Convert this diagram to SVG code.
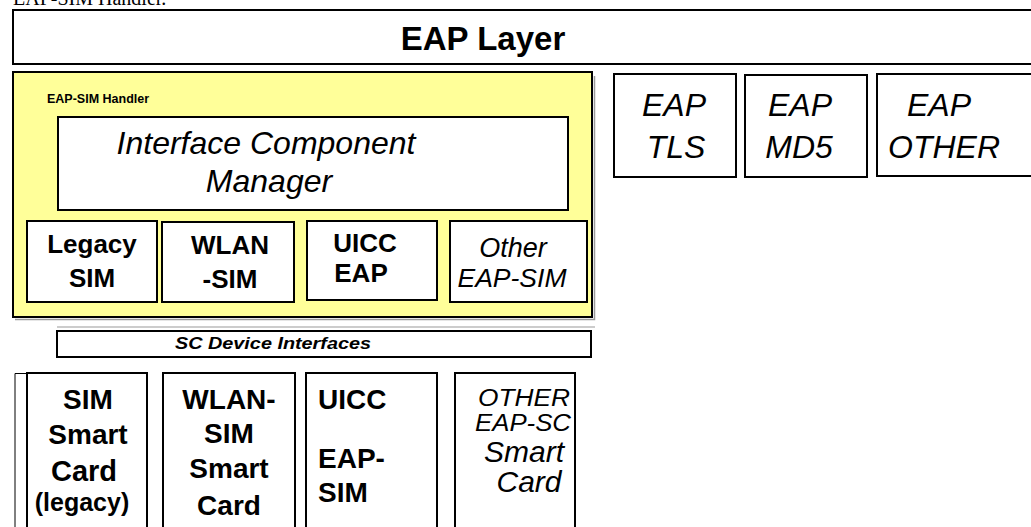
<svg xmlns="http://www.w3.org/2000/svg" width="1031" height="527" viewBox="0 0 1031 527">
<style>
.box{fill:#ffffff;stroke:#000000;stroke-width:2}
.shadow{fill:none;stroke:#9a9a9a;stroke-width:1.5}
.b{font-family:"Liberation Sans",Arial,sans-serif;font-weight:bold;fill:#000;text-anchor:middle}
.i{font-family:"Liberation Sans",Arial,sans-serif;font-style:italic;fill:#000;text-anchor:middle}
.bi{font-family:"Liberation Sans",Arial,sans-serif;font-style:italic;font-weight:bold;fill:#000;text-anchor:middle}
</style>
<rect width="1031" height="527" fill="#ffffff"/>
<text x="13" y="5" font-family="'Liberation Serif','Times New Roman',serif" font-size="20" fill="#000">EAP-SIM Handler.</text>

<g id="eap-layer">
<rect class="box" x="13" y="10" width="1030" height="54"/>
<text class="b" x="483" y="50" font-size="33">EAP Layer</text>
</g>

<g id="eap-sim-handler">
<path class="shadow" d="M15,319.5 H594.5 V76"/>
<rect x="13" y="72" width="579" height="245" fill="#ffff99" stroke="#000" stroke-width="2"/>
<text class="b" x="47" y="103" font-size="12.5" style="text-anchor:start">EAP-SIM Handler</text>
</g>

<g id="interface-component-manager">
<rect class="box" x="58" y="117" width="510" height="93"/>
<text class="i" x="266" y="154" font-size="32">Interface Component</text>
<text class="i" x="269" y="192" font-size="32">Manager</text>
</g>

<g id="legacy-sim">
<rect class="box" x="27" y="221" width="130" height="81"/>
<text class="b" x="92" y="253" font-size="26">Legacy</text>
<text class="b" x="92" y="287" font-size="26">SIM</text>
</g>

<g id="wlan-sim">
<rect class="box" x="162" y="222" width="132" height="80"/>
<text class="b" x="230" y="254" font-size="26">WLAN</text>
<text class="b" x="230" y="288" font-size="26">-SIM</text>
</g>

<g id="uicc-eap">
<rect class="box" x="307" y="221" width="130" height="79"/>
<text class="b" x="365" y="252" font-size="26">UICC</text>
<text class="b" x="361" y="282" font-size="26">EAP</text>
</g>

<g id="other-eapsim">
<rect class="box" x="450" y="221" width="137" height="81"/>
<text class="i" x="513" y="257" font-size="27">Other</text>
<text class="i" x="512" y="287" font-size="26" textLength="109" lengthAdjust="spacingAndGlyphs">EAP-SIM</text>
</g>

<g id="eap-tls">
<rect class="box" x="614" y="74" width="122" height="103"/>
<text class="i" x="674" y="116" font-size="32">EAP</text>
<text class="i" x="676" y="158" font-size="32">TLS</text>
</g>

<g id="eap-md5">
<rect class="box" x="745" y="75" width="122" height="102"/>
<text class="i" x="800" y="116" font-size="32">EAP</text>
<text class="i" x="799" y="158" font-size="32">MD5</text>
</g>

<g id="eap-other">
<rect class="box" x="877" y="74" width="170" height="102"/>
<text class="i" x="939" y="116" font-size="32">EAP</text>
<text class="i" x="944" y="158" font-size="32">OTHER</text>
</g>

<g id="sc-device-interfaces">
<line x1="57" y1="327" x2="595" y2="327" stroke="#bbbbbb" stroke-width="1.5"/>
<rect class="box" x="57" y="331" width="534" height="26"/>
<text class="bi" x="273" y="349" font-size="17" textLength="196" lengthAdjust="spacingAndGlyphs">SC Device Interfaces</text>
</g>

<g id="sim-smart-card">
<path d="M27,373.5 H15 V527" fill="none" stroke="#000" stroke-width="1"/>
<rect class="box" x="27" y="373" width="120" height="170"/>
<text class="b" x="88" y="409" font-size="28">SIM</text>
<text class="b" x="88" y="444" font-size="28">Smart</text>
<text class="b" x="84" y="481" font-size="29">Card</text>
<text class="b" x="82" y="511" font-size="25">(legacy)</text>
</g>

<g id="wlan-sim-smart-card">
<rect class="box" x="163" y="373" width="132" height="170"/>
<text class="b" x="229" y="409" font-size="28">WLAN-</text>
<text class="b" x="229" y="443" font-size="28">SIM</text>
<text class="b" x="229" y="478" font-size="28">Smart</text>
<text class="b" x="229" y="515" font-size="28">Card</text>
</g>

<g id="uicc-eap-sim">
<rect class="box" x="306" y="373" width="131" height="170"/>
<text class="b" x="318" y="409" font-size="28" style="text-anchor:start">UICC</text>
<text class="b" x="318" y="468" font-size="28" style="text-anchor:start">EAP-</text>
<text class="b" x="318" y="502" font-size="28" style="text-anchor:start">SIM</text>
</g>

<g id="other-eap-sc-smart-card">
<rect class="box" x="455" y="373" width="120" height="170"/>
<text class="i" x="524" y="406" font-size="23" textLength="92" lengthAdjust="spacingAndGlyphs">OTHER</text>
<text class="i" x="523" y="431" font-size="23" textLength="96" lengthAdjust="spacingAndGlyphs">EAP-SC</text>
<text class="i" x="524" y="462" font-size="30">Smart</text>
<text class="i" x="529" y="492" font-size="30">Card</text>
</g>

<g id="connectors"></g>
</svg>
